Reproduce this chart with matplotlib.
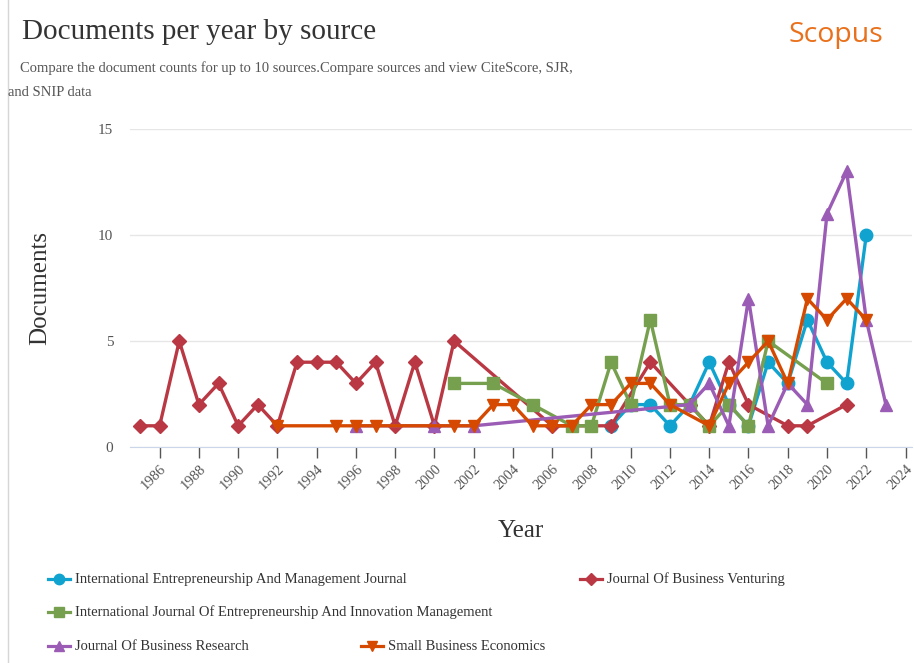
import matplotlib
matplotlib.use("Agg")
import matplotlib.pyplot as plt
from matplotlib.lines import Line2D

plt.rcParams['font.family'] = ['Liberation Serif', 'DejaVu Serif']

# ---- data ----
years_iemj = [2009, 2010, 2011, 2012, 2013, 2014, 2015, 2016, 2017, 2018, 2019, 2020, 2021, 2022]
docs_iemj = [1, 2, 2, 1, 2, 4, 2, 1, 4, 3, 6, 4, 3, 10]

years_jbv = [1985, 1986, 1987, 1988, 1989, 1990, 1991, 1992, 1993, 1994, 1995, 1996, 1997,
             1998, 1999, 2000, 2001, 2006, 2009, 2011, 2013, 2014, 2015, 2016, 2018, 2019, 2021]
docs_jbv = [1, 1, 5, 2, 3, 1, 2, 1, 4, 4, 4, 3, 4,
            1, 4, 1, 5, 1, 1, 4, 2, 1, 4, 2, 1, 1, 2]

years_ijeim = [2001, 2003, 2005, 2007, 2008, 2009, 2010, 2011, 2012, 2013, 2014, 2015, 2016, 2017, 2020]
docs_ijeim = [3, 3, 2, 1, 1, 4, 2, 6, 2, 2, 1, 2, 1, 5, 3]

years_jbr = [1996, 2000, 2002, 2013, 2014, 2015, 2016, 2017, 2018, 2019, 2020, 2021, 2022, 2023]
docs_jbr = [1, 1, 1, 2, 3, 1, 7, 1, 3, 2, 11, 13, 6, 2]

years_sbe = [1992, 1995, 1996, 1997, 2001, 2002, 2003, 2004, 2005, 2006, 2007, 2008, 2009,
             2010, 2011, 2012, 2014, 2015, 2016, 2017, 2018, 2019, 2020, 2021, 2022]
docs_sbe = [1, 1, 1, 1, 1, 1, 2, 2, 1, 1, 1, 2, 2,
            3, 3, 2, 1, 3, 4, 5, 3, 7, 6, 7, 6]

series = [
    ("International Entrepreneurship And Management Journal", years_iemj, docs_iemj, '#10a3d0', 'o'),
    ("Journal Of Business Venturing", years_jbv, docs_jbv, '#b93843', 'D'),
    ("International Journal Of Entrepreneurship And Innovation Management", years_ijeim, docs_ijeim, '#76a04e', 's'),
    ("Journal Of Business Research", years_jbr, docs_jbr, '#9b5cb5', '^'),
    ("Small Business Economics", years_sbe, docs_sbe, '#d54a00', 'v'),
]
x_ticks = list(range(1986, 2025, 2))
y_ticks = [0, 5, 10, 15]

W, H = 914, 663
fig = plt.figure(figsize=(W / 100, H / 100), dpi=100)

# main plot
ax = fig.add_axes([130 / W, 1 - 447 / H, (912 - 130) / W, (447 - 129) / H])
for name, xs, ys, col, mk in series:
    ms = 7.5 if mk == 'D' else 9
    ax.plot(xs, ys, color=col, lw=2.4, marker=mk, ms=ms, mec=col, mfc=col, clip_on=False)

ax.set_xlim(1984.49, 2024.33)
ax.set_ylim(0, 15)
ax.set_xticks(x_ticks)
ax.set_xticklabels([str(t) for t in x_ticks], rotation=45, ha='right', va='top',
                   rotation_mode='anchor', fontsize=10.5, color='#555555')
ax.set_yticks(y_ticks)
ax.set_yticklabels([str(t) for t in y_ticks], fontsize=11, color='#555555')
ax.tick_params(axis='x', length=8, width=1, color='#555555', pad=3)
ax.tick_params(axis='y', length=0, pad=12)
ax.grid(axis='y', color='#e6e6e6', lw=1)
ax.set_axisbelow(True)
for s in ['top', 'right', 'left']:
    ax.spines[s].set_visible(False)
ax.spines['bottom'].set_color('#ccd6eb')
ax.set_xlabel('Year', fontsize=18, color='#333333', labelpad=20)
ax.set_ylabel('Documents', fontsize=18, color='#333333', labelpad=34)

# overlay in pixel coords for header, legend, border
ov = fig.add_axes([0, 0, 1, 1], zorder=-1)
ov.set_xlim(0, W)
ov.set_ylim(H, 0)
ov.axis('off')
ov.plot([8, 8], [0, H], color='#d6d6d6', lw=1)

ov.text(22, 32, 'Documents per year by source', fontsize=21, color='#333333', va='center')
ov.text(20, 68, 'Compare the document counts for up to 10 sources.Compare sources and view CiteScore, SJR,',
        fontsize=10.5, color='#555555', va='center')
ov.text(8, 93, 'and SNIP data', fontsize=10.5, color='#555555', va='center')
ov.text(836, 35, 'Scopus', fontsize=20.5, color='#e9711c', va='center', ha='center', family='Open Sans')

# legend
legend_pos = [(59, 579), (591, 579), (59, 612), (59, 646), (372, 646)]
for (name, xs, ys, col, mk), (lx, ly) in zip(series, legend_pos):
    ov.add_line(Line2D([lx - 11, lx + 11], [ly, ly], color=col, lw=2.3))
    ov.plot([lx], [ly], marker=mk, color=col, ms=6.5 if mk == 'D' else 7.5)
    ov.text(lx + 16, ly, name, fontsize=10.5, color='#333333', va='center')

fig.savefig('out.png', dpi=100)
